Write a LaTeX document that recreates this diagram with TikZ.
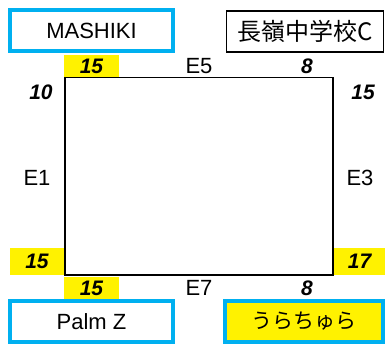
\documentclass[tikz,border=0pt]{standalone}
\usepackage{fontspec}
\setmainfont{Liberation Sans}
\newfontfamily\jpfont{Noto Sans CJK JP}
\usepackage{tikz}
\usetikzlibrary{calc}
\definecolor{boxblue}{RGB}{0,176,240}
\tikzset{%
  namebox/.style={draw=boxblue, line width=4pt, minimum width=163pt, minimum height=41pt, inner sep=0pt, font=\fontsize{22}{22}\selectfont},
  numlabel/.style={inner sep=0pt, font=\fontsize{21}{21}\selectfont\bfseries\itshape},
  textlabel/.style={inner sep=0pt, font=\fontsize{22}{22}\selectfont}
}

\begin{document}
\begin{tikzpicture}[x=1pt,y=-1pt]
  \tikzset{numlabel/.style={inner sep=0pt, font=\fontsize{21}{21}\selectfont\bfseries\itshape}};
  \tikzset{textlabel/.style={inner sep=0pt, font=\fontsize{22}{22}\selectfont}};

\useasboundingbox (0,0) rectangle (385,344);

\coordinate (P1) at (65,77.5);
\coordinate (P2) at (333,77.5);
\coordinate (P3) at (333,275);
\coordinate (P4) at (65,275);

% 枠
\draw [line width=1.5pt] (P1) -- (P2) -- (P3) -- (P4) -- cycle;

\node (M) [namebox] at (91.5,30.5) {MASHIKI};
\node (N) [draw, line width=1.5pt, minimum width=157pt, minimum height=41pt, inner sep=0pt, font=\fontsize{24}{24}\selectfont] at (305,31.5) {\jpfont 長嶺中学校C};
\node (PZ) [namebox] at (91.5,321.5) {Palm Z};
\node (U) [namebox, fill=yellow, minimum width=158pt, font=\fontsize{21}{21}\selectfont] at (304,321.5) {\jpfont うらちゅら};

\node (T1) [numlabel, fill=yellow, minimum width=55pt, minimum height=22pt] at (91.5,66) {15};
\node (T2) [textlabel] at (199,66) {E5};
\node (T3) [numlabel] at (307,66) {8};

\node (L1) [numlabel] at (41,92) {10};
\node (R1) [numlabel] at (363,92) {15};

\node (L2) [textlabel] at (37,178) {E1};
\node (R2) [textlabel] at (360,178) {E3};

\node (L3) [numlabel, fill=yellow, minimum width=54pt, minimum height=27pt] at (37,261.5) {15};
\node (R3) [numlabel, fill=yellow, minimum width=51pt, minimum height=27pt] at (359.5,261.5) {17};

\node (B1) [numlabel, fill=yellow, minimum width=55pt, minimum height=22pt] at (91.5,288) {15};
\node (B2) [textlabel] at (199,288) {E7};
\node (B3) [numlabel] at (307,288) {8};
\end{tikzpicture}
\end{document}
